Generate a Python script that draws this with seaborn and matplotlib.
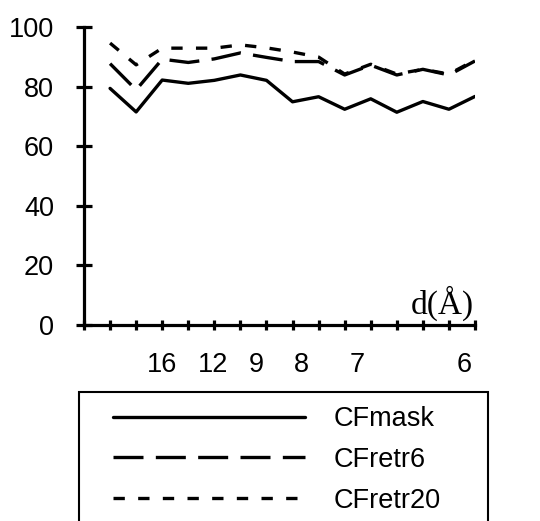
import matplotlib
matplotlib.use("Agg")
import matplotlib.pyplot as plt
from matplotlib.patches import Rectangle
import seaborn as sns
import pandas as pd
import numpy as np

# ---- data ----
x_index = list(range(1, 16))
cf_mask = [79.4, 71.5, 82.2, 81.1, 82.1, 83.9, 82.1, 74.9, 76.6, 72.4, 75.9, 71.4, 75.0, 72.4, 76.7]
cf_retr6 = [87.7, 78.9, 89.2, 88.1, 89.3, 91.3, 89.8, 88.4, 88.4, 83.9, 87.2, 83.9, 85.8, 83.9, 88.6]
cf_retr20 = [94.6, 87.3, 92.9, 92.9, 92.9, 94.0, 93.0, 91.6, 89.9, 84.2, 87.5, 84.2, 85.8, 84.2, 88.9]
series_names = ["CFmask", "CFretr6", "CFretr20"]
tick_labels = ["16", "12", "9", "8", "7", "6"]
tick_pos = [2.98, 4.95, 6.59, 8.35, 10.47, 14.57]
y_ticks = [0, 20, 40, 60, 80, 100]

df = pd.DataFrame({
    "x": x_index * 3,
    "value": cf_mask + cf_retr6 + cf_retr20,
    "series": [series_names[0]] * 15 + [series_names[1]] * 15 + [series_names[2]] * 15,
})

sns.set_theme(style="white")
plt.rcParams["font.family"] = ["Liberation Sans", "DejaVu Sans"]

W, H = 540, 521
fig = plt.figure(figsize=(W / 100, H / 100), dpi=100)
ax = fig.add_axes([84 / W, (H - 325) / H, 391 / W, 298 / H])

lw = 2.4
sns.lineplot(data=df, x="x", y="value", hue="series", style="series",
             palette={n: "black" for n in series_names},
             dashes={"CFmask": "", "CFretr6": (9, 3.7), "CFretr20": (3.4, 4.0)},
             linewidth=lw, ax=ax, legend=False)

ax.set_xlim(0, 15)
ax.set_ylim(0, 100)
for s in ["top", "right"]:
    ax.spines[s].set_visible(False)
for s in ["left", "bottom"]:
    ax.spines[s].set_linewidth(2.3)
    ax.spines[s].set_color("black")

fs = 19.5
ax.set_yticks(y_ticks)
ax.set_yticklabels([str(v) for v in y_ticks])
ax.tick_params(axis="y", direction="inout", length=12.2, width=2.3, pad=15.5,
               labelsize=fs, colors="black", left=True)

ax.set_xticks(tick_pos)
ax.set_xticklabels(tick_labels)
ax.tick_params(axis="x", which="major", length=0, pad=19.5, labelsize=fs, colors="black")
ax.set_xticks(np.arange(0, 16), minor=True)
ax.tick_params(axis="x", which="minor", direction="inout", length=6.5, width=2.3,
               bottom=True, colors="black")

ax.set_ylabel("")
ax.set_xlabel("d(Å)", fontfamily=["Liberation Serif", "DejaVu Serif"], fontsize=24,
              va="center", color="black")
ax.xaxis.set_label_coords((442 - 84) / 391, (325 - 303) / 298)

# legend
handles = ax.get_lines()[:3]
leg = fig.legend(handles, series_names, loc="upper left",
                 bbox_to_anchor=(113 / W, (H - 406) / H), bbox_transform=fig.transFigure,
                 frameon=False, fontsize=fs, handlelength=7.1, handletextpad=1.05,
                 labelspacing=0.55, borderpad=0, borderaxespad=0)
for t in leg.get_texts():
    t.set_color("black")

fig.add_artist(Rectangle((79 / W, -0.1), 409 / W, 0.1 + (H - 392) / H,
                         transform=fig.transFigure, fill=False,
                         edgecolor="black", linewidth=1.5))

fig.savefig("out.png", dpi=100, facecolor="white")
